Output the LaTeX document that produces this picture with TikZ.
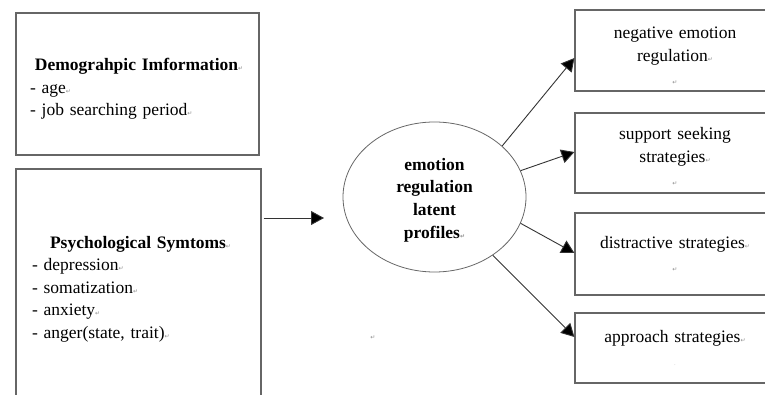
\documentclass[tikz,border=0pt]{standalone}
\usepackage{fontspec}
\setmainfont{Liberation Serif}
\newfontfamily\symfont{DejaVu Sans}
\usetikzlibrary{shapes.geometric,arrows.meta}

\newcommand{\retmark}{{\symfont\fontsize{6}{6}\selectfont\textcolor{black!45}{↵}}}
\newcommand{\padtop}[1]{\rule{0pt}{#1}}

\tikzstyle{leftbox} = [rectangle, draw=black!60, line width=1.2pt, align=left, font=\fontsize{17.5}{22.5}\selectfont]
\tikzstyle{rightbox} = [rectangle, draw=black!60, line width=1.2pt, minimum width=200pt, text width=190pt, inner xsep=5pt, align=center, font=\fontsize{17.5}{23}\selectfont]
\tikzstyle{latent} = [ellipse, draw=black!60, line width=0.8pt, minimum width=183pt, minimum height=150pt, inner sep=0pt, align=center, font=\bfseries\fontsize{17.5}{22.7}\selectfont]
\tikzstyle{arrow} = [line width=0.9pt, draw=black!80, -{Triangle[length=13pt,width=14pt,fill=black]}]

\begin{document}
\begin{tikzpicture}[x=1pt, y=-1pt]
    \useasboundingbox (0,0) rectangle (765,395);
    \clip (0,0) rectangle (765,395);
    % left side
    \node (demo) [leftbox, minimum height=142pt, text width=215pt, inner xsep=14pt] at (137.5,84)
        {\padtop{22pt}\hspace{5pt}\textbf{Demograhpic Imformation}\retmark\\- age\retmark\\- job searching period\retmark};
    \node (psych) [leftbox, minimum height=232pt, text width=213pt, inner xsep=16pt] at (138.5,285)
        {\padtop{20pt}\hspace{18pt}\textbf{Psychological Symtoms}\retmark\\- depression\retmark\\- somatization\retmark\\- anxiety\retmark\\- anger(state, trait)\retmark};
    \node (mark) at (373,338) {\retmark};
    % profiles
    \node (profiles) [latent] at (434.5,197) {\padtop{18pt}emotion\\regulation\\latent\\profiles\retmark};
    \coordinate (into) at (324,218);
    \draw [arrow, shorten <=2pt] (psych.east |- into) -- (into);
    % strategies
    \node (neg) [rightbox, minimum height=81pt] at (675,50.5) {\padtop{22pt}negative emotion\\regulation\retmark\\\retmark};
    \node (sup) [rightbox, minimum height=80pt] at (675,153) {\padtop{20pt}support seeking\\strategies\retmark\\\retmark};
    \node (dis) [rightbox, minimum height=82pt] at (675,254) {distractive strategies\retmark\\\retmark};
    \node (app) [rightbox, minimum height=70pt] at (675,348) {approach strategies\retmark\\\textcolor{black!40}{\tiny.}};
    \draw [arrow] (profiles.37) -- ([yshift=-7.5pt]neg.west);
    \draw [arrow] (profiles.17) -- ([yshift=1pt]sup.west);
    \draw [arrow] (profiles.-17) -- ([yshift=1pt]dis.west);
    \draw [arrow] (profiles.-45) -- ([yshift=11pt]app.west);
\end{tikzpicture}
\end{document}
